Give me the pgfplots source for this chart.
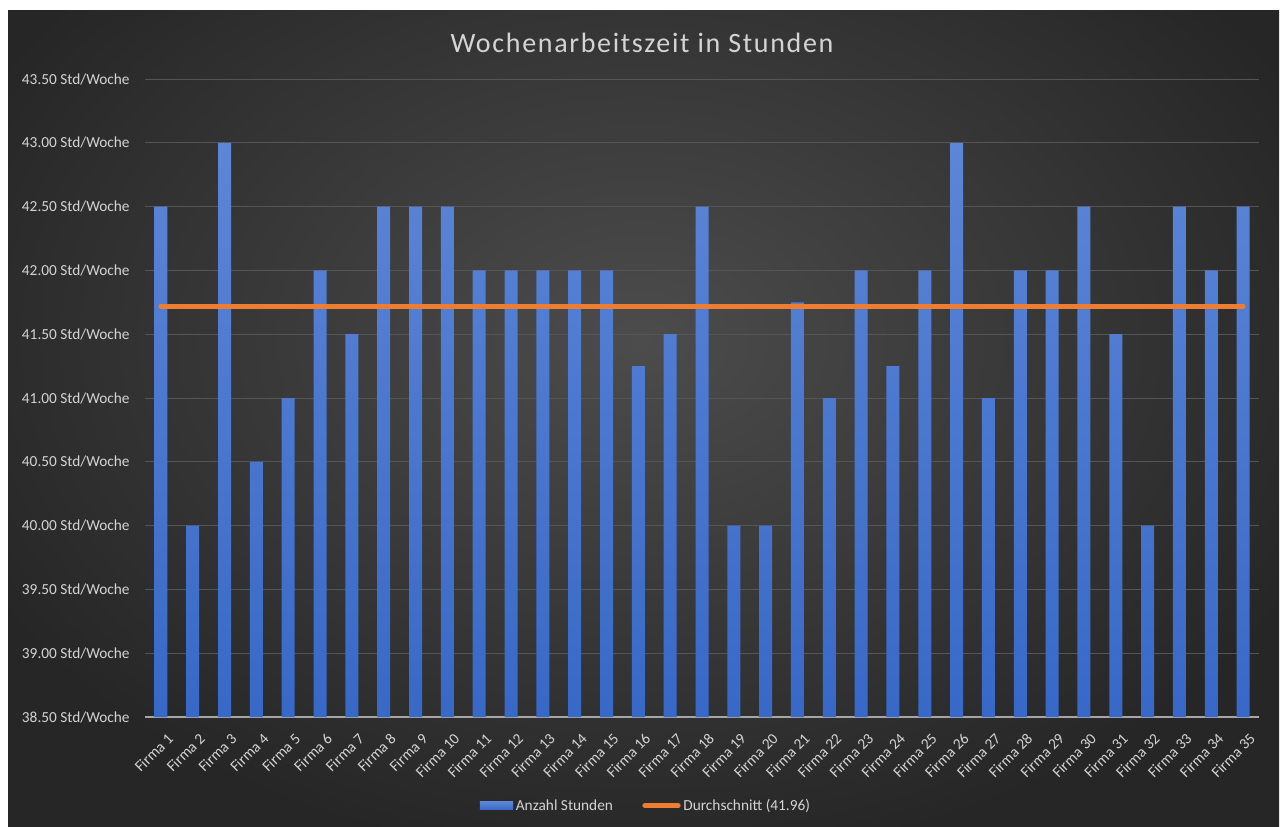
\documentclass[border=0pt]{standalone}
\usepackage{pgfplots}
\pgfplotsset{compat=1.18}
\usepackage{fontspec}
\setmainfont{Carlito}
\definecolor{barblue}{HTML}{4A78D2}
\definecolor{bartop}{HTML}{5C86D6}
\definecolor{barbot}{HTML}{3868C8}
\definecolor{avgorange}{HTML}{ED7D31}
\definecolor{txt}{HTML}{D4D4D4}
\definecolor{gridc}{HTML}{555555}
\definecolor{axisc}{HTML}{A6A6A6}
\definecolor{bginner}{HTML}{4C4C4C}
\definecolor{bgouter}{HTML}{262626}
\pgfplotstableread{
x y
1 42.5
2 40.0
3 43.0
4 40.5
5 41.0
6 42.0
7 41.5
8 42.5
9 42.5
10 42.5
11 42.0
12 42.0
13 42.0
14 42.0
15 42.0
16 41.25
17 41.5
18 42.5
19 40.0
20 40.0
21 41.75
22 41.0
23 42.0
24 41.25
25 42.0
26 43.0
27 41.0
28 42.0
29 42.0
30 42.5
31 41.5
32 40.0
33 42.5
34 42.0
35 42.5
}\hours
\begin{document}
\begin{tikzpicture}
\fill[white] (0pt,0pt) rectangle (960.75pt,619.5pt);
\begin{scope}
\clip (6pt,0pt) rectangle (959.25pt,611.25pt);
\shade[inner color=bginner, outer color=bgouter] (-80pt,-30pt) rectangle (1040pt,760pt);
\end{scope}
\node[text=txt, font=\fontsize{21}{24}\selectfont\addfontfeature{LetterSpace=6}] at (481.5pt,587pt) {Wochenarbeitszeit in Stunden};
\begin{axis}[
  at={(108.75pt,81.75pt)}, anchor=south west,
  scale only axis, width=835.5pt, height=478.5pt,
  xmin=0.5, xmax=35.5, ymin=38.5, ymax=43.5,
  axis line style={draw=none},
  major tick length=0pt,
  xtick={1,...,35},
  xticklabels={Firma 1,Firma 2,Firma 3,Firma 4,Firma 5,Firma 6,Firma 7,Firma 8,Firma 9,Firma 10,Firma 11,Firma 12,Firma 13,Firma 14,Firma 15,Firma 16,Firma 17,Firma 18,Firma 19,Firma 20,Firma 21,Firma 22,Firma 23,Firma 24,Firma 25,Firma 26,Firma 27,Firma 28,Firma 29,Firma 30,Firma 31,Firma 32,Firma 33,Firma 34,Firma 35},
  xticklabel style={rotate=45, anchor=north east, text=txt, font=\fontsize{11.5}{13}\selectfont, inner sep=1pt, xshift=-4pt, yshift=-10pt},
  ytick={38.5,39,39.5,40,40.5,41,41.5,42,42.5,43,43.5},
  yticklabels={38.50 Std/Woche,39.00 Std/Woche,39.50 Std/Woche,40.00 Std/Woche,40.50 Std/Woche,41.00 Std/Woche,41.50 Std/Woche,42.00 Std/Woche,42.50 Std/Woche,43.00 Std/Woche,43.50 Std/Woche},
  yticklabel style={text=txt, font=\fontsize{11.5}{13}\selectfont, xshift=-8pt},
  ymajorgrids, major grid style={gridc, line width=0.75pt},
  legend style={at={(0.45,-0.139)}, anchor=center, draw=none, fill=none, text=txt, font=\fontsize{11.5}{13}\selectfont, legend columns=2, /tikz/every even column/.append style={column sep=20pt}, inner sep=0pt},
  legend cell align=left,
  clip=false,
]
\draw[axisc, line width=1.3pt] (rel axis cs:0,0) -- (rel axis cs:1,0);
\addplot[ybar, bar width=9.75pt, draw=none, top color=bartop, bottom color=barbot,
  legend image code/.code={\fill[barblue] (0pt,-3pt) rectangle (25pt,3pt);}]
  table[x=x, y=y] {\hours};
\addlegendentry{Anzahl Stunden}
\addplot[sharp plot, no marks, avgorange, line width=3.75pt, line cap=round,
  legend image code/.code={\draw[avgorange, line width=3.75pt, line cap=round] (0pt,0pt) -- (25pt,0pt);}]
  coordinates {(1,41.72) (35,41.72)};
\addlegendentry{Durchschnitt (41.96)}
\end{axis}
\end{tikzpicture}
\end{document}
